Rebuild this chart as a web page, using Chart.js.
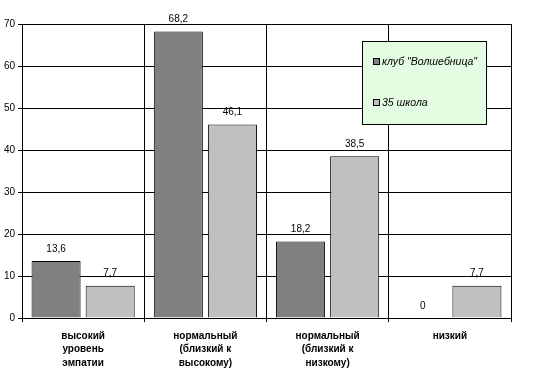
<!DOCTYPE html>
<html>
<head>
<meta charset="utf-8">
<script src="https://cdn.jsdelivr.net/npm/chart.js@4/dist/chart.umd.min.js"></script>
<style>
html,body{margin:0;padding:0;background:#fff;}
canvas{display:block;}
</style>
</head>
<body>
<canvas id="c" width="537" height="380"></canvas>
<script>
const categories = [
  ["высокий", "уровень", "эмпатии"],
  ["нормальный", "(близкий к", "высокому)"],
  ["нормальный", "(близкий к", "низкому)"],
  ["низкий"]
];
const seriesNames = ['клуб "Волшебница"', '35 школа'];
const clubValues = [13.6, 68.2, 18.2, 0];
const schoolValues = [7.7, 46.1, 38.5, 7.7];
const yTicks = [0, 10, 20, 30, 40, 50, 60, 70];

const FONT = "'Liberation Sans', Arial, sans-serif";

const valueLabels = {
  id: 'valueLabels',
  afterDatasetsDraw(chart) {
    const ctx = chart.ctx;
    ctx.save();
    ctx.font = "10px " + FONT;
    ctx.fillStyle = "#000";
    ctx.textAlign = "center";
    ctx.textBaseline = "middle";
    chart.data.datasets.forEach((ds, i) => {
      chart.getDatasetMeta(i).data.forEach((bar, j) => {
        const v = ds.data[j];
        ctx.fillText(String(v).replace('.', ','), bar.x, bar.y - 12);
      });
    });
    ctx.restore();
  }
};

const boxLegend = {
  id: 'boxLegend',
  afterDraw(chart) {
    const ctx = chart.ctx;
    ctx.save();
    const x = 362.5, y = 41.5, w = 124, h = 83;
    ctx.fillStyle = "#E4FCE2";
    ctx.fillRect(x, y, w, h);
    ctx.strokeStyle = "#000";
    ctx.lineWidth = 1;
    ctx.strokeRect(x, y, w, h);
    ctx.font = "italic 10.5px " + FONT;
    ctx.textBaseline = "middle";
    ctx.textAlign = "left";
    const rows = [62, 103];
    chart.data.datasets.forEach((ds, i) => {
      const cy = rows[i];
      ctx.fillStyle = ds.backgroundColor;
      ctx.fillRect(373.5, cy - 3.5, 6, 6);
      ctx.strokeStyle = "#000";
      ctx.strokeRect(373.5, cy - 3.5, 6, 6);
      ctx.fillStyle = "#000";
      ctx.fillText(ds.label, 382, cy);
    });
    ctx.restore();
  }
};

new Chart(document.getElementById('c'), {
  type: 'bar',
  data: {
    labels: categories,
    datasets: [
      { label: seriesNames[0], data: clubValues, backgroundColor: '#808080', borderColor: '#000', borderWidth: 1 },
      { label: seriesNames[1], data: schoolValues, backgroundColor: '#C0C0C0', borderColor: '#000', borderWidth: 1 }
    ]
  },
  options: {
    responsive: false,
    animation: false,
    devicePixelRatio: 1,
    layout: { padding: { top: 24, right: 26, left: 0, bottom: 0 } },
    categoryPercentage: 0.885,
    barPercentage: 0.907,
    plugins: { legend: { display: false }, tooltip: { enabled: false } },
    scales: {
      x: {
        offset: true,
        grid: { offset: true, color: '#000', lineWidth: 1, tickLength: 4, drawOnChartArea: true },
        border: { color: '#000', width: 1 },
        ticks: {
          color: '#000',
          font: { family: FONT, size: 10, weight: 'bold', lineHeight: 1.35 },
          padding: 7,
          maxRotation: 0,
          autoSkip: false
        },
        afterFit(s) { s.height = 62; }
      },
      y: {
        min: 0, max: 70,
        afterBuildTicks(s) { s.ticks = yTicks.map(v => ({ value: v })); },
        grid: { color: '#000', lineWidth: 1, tickLength: 4 },
        border: { color: '#000', width: 1 },
        ticks: {
          color: '#000',
          font: { family: FONT, size: 10 },
          padding: 3
        },
        afterFit(s) { s.width = 22; }
      }
    }
  },
  plugins: [valueLabels, boxLegend]
});
</script>
</body>
</html>
